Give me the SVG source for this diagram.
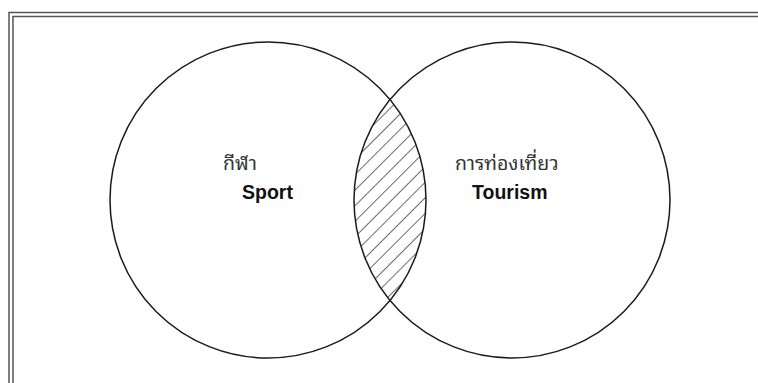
<svg xmlns="http://www.w3.org/2000/svg" width="758" height="383" viewBox="0 0 758 383">
<style>
.frame{fill:none;stroke:#555;stroke-width:1.5}
.circle{fill:none;stroke:#1a1a1a;stroke-width:1.5}
.th{font-family:"Noto Sans Thai Looped","Noto Serif Thai","Noto Sans Thai","Noto Sans","DejaVu Sans",sans-serif;font-size:19.5px;fill:#333}
.en{font-family:"Liberation Sans",Arial,sans-serif;font-size:19.5px;font-weight:bold;fill:#111}
</style>
<defs>
<pattern id="hatch" patternUnits="userSpaceOnUse" width="11" height="11" patternTransform="rotate(45)">
<line x1="0" y1="-1" x2="0" y2="12" stroke="#1a1a1a" stroke-width="1.3"/>
</pattern>
<clipPath id="lensClip">
<circle cx="512" cy="200" r="158"/>
</clipPath>
</defs>
<rect width="758" height="383" fill="#fff"/>
<g id="frame">
<path class="frame" d="M9,390 V12.5 H760"/>
<path class="frame" d="M13,390 V16.5 H760"/>
</g>
<g id="overlap">
<circle cx="268" cy="200" r="158" fill="url(#hatch)" clip-path="url(#lensClip)"/>
</g>
<g id="sport">
<circle class="circle" cx="268" cy="200" r="158"/>
<text class="th" x="223" y="170">กีฬา</text>
<text class="en" x="242" y="199">Sport</text>
</g>
<g id="tourism">
<circle class="circle" cx="512" cy="200" r="158"/>
<text class="th" x="455" y="170">การท่องเที่ยว</text>
<text class="en" x="472" y="199">Tourism</text>
</g>
<g id="connectors"/>
</svg>
